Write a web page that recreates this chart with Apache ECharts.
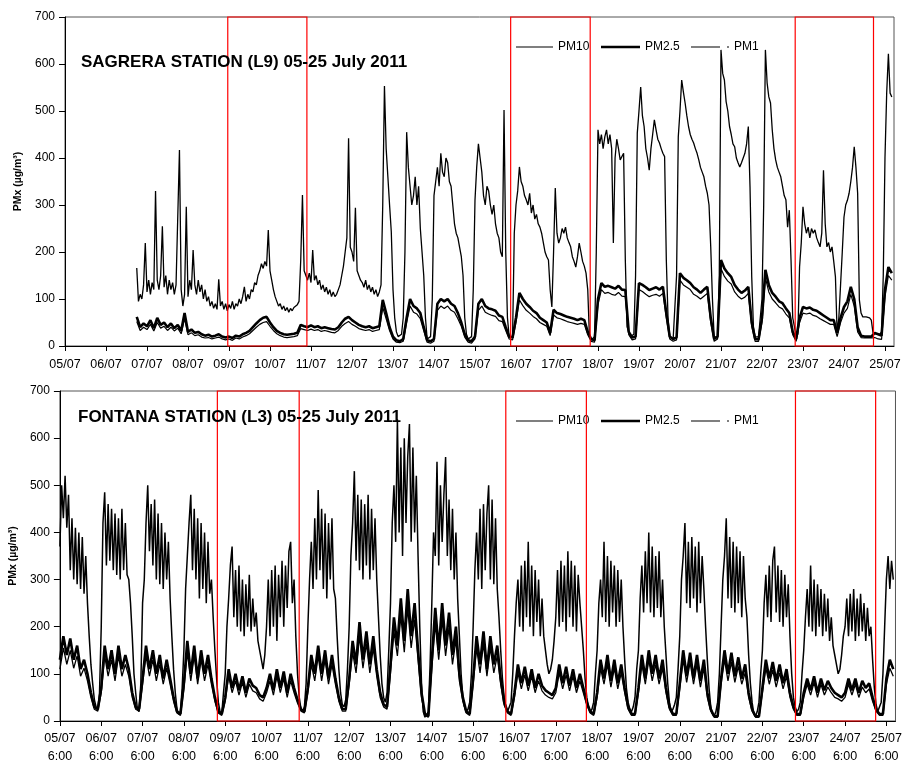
<!DOCTYPE html>
<html>
<head>
<meta charset="utf-8">
<script src="https://cdn.jsdelivr.net/npm/echarts@6/dist/echarts.min.js"></script>
<style>
html,body{margin:0;padding:0;background:#fff;}
#chart{width:905px;height:766px;}
</style>
</head>
<body>
<div id="chart"></div>
<script>
// Tick labels (each day at 6:00)
const dayLabels = ['05/07','06/07','07/07','08/07','09/07','10/07','11/07','12/07','13/07','14/07','15/07',
  '16/07','17/07','18/07','19/07','20/07','21/07','22/07','23/07','24/07','25/07'];

// x unit: days since 05/07 6:00
// SAGRERA (top): PM10 hourly from 07/07 00:00 (one row per day)
const sagreraStart = 1.75;
const sagreraPM10 = [
  [166,95,110,100,130,219,115,140,110,135,120,330,140,120,150,255,125,150,110,140,120,135,110,130],
  [130,417,120,85,110,296,105,140,120,204,130,110,140,115,130,100,120,95,105,85,95,80,90,78],
  [142,85,95,78,90,75,88,80,95,78,90,85,100,90,105,126,95,110,100,120,115,135,130,150],
  [160,175,165,180,170,247,160,140,120,105,95,85,90,78,85,75,82,72,80,75,82,78,88,95],
  [183,321,160,150,140,155,135,204,140,150,130,140,120,130,115,125,110,120,105,115,105,110,120,130],
  [150,170,200,230,442,210,200,180,294,160,150,140,135,125,140,120,130,115,125,110,120,105,115,130],
  [300,553,420,360,300,243,120,60,30,20,18,25,60,200,455,380,340,300,320,360,300,340,250,200],
  [150,60,15,12,20,100,320,350,380,340,410,370,360,400,390,350,340,300,260,240,230,210,190,150],
  [60,25,15,12,20,120,310,380,430,400,370,320,300,340,330,300,280,300,260,240,230,200,190,502],
  [200,60,20,19,18,240,300,330,381,350,340,320,311,300,325,283,300,270,280,260,253,240,220,200],
  [190,183,120,83,200,336,240,219,230,250,240,253,230,220,211,190,180,168,190,219,200,180,170,155],
  [120,20,13,13,20,200,460,430,450,420,445,460,430,450,420,219,400,440,420,396,400,410,183,41],
  [30,20,19,25,150,453,500,551,490,467,420,400,374,420,450,481,460,440,432,420,410,403,183,60],
  [20,19,15,18,150,445,500,566,540,517,490,467,450,440,432,420,410,396,380,370,360,340,325,300],
  [211,100,19,18,20,150,630,580,566,520,500,467,450,430,424,400,390,381,390,400,410,430,467,338],
  [147,40,19,18,20,19,100,300,630,560,530,517,460,420,396,380,370,360,340,320,311,253,289,183],
  [60,41,19,25,168,220,296,260,240,253,230,250,240,247,230,220,211,240,374,260,211,220,200,211],
  [180,147,28,60,130,200,274,300,310,325,350,380,424,380,325,98,70,62,60,62,58,60,55,28],
  [28,25,22,25,30,150,400,538,622,538,530]
].flat();
// SAGRERA PM2.5 and PM1 every 2 h from 07/07 00:00
const sagreraPM25 = [
  [62,40,48,42,55,38,60,45,50,40,48,38],
  [45,32,70,30,35,28,30,25,22,24,20,22],
  [25,20,18,20,17,22,20,25,28,32,40,48],
  [55,60,62,50,40,32,28,25,24,25,26,28],
  [45,42,40,44,40,42,38,40,38,36,35,40],
  [50,58,62,55,50,45,42,40,42,38,40,42],
  [98,70,40,20,12,10,15,60,100,85,80,70],
  [40,12,10,15,90,100,95,100,90,85,70,50],
  [25,12,10,20,90,100,85,80,78,75,65,62],
  [40,20,18,60,113,100,90,83,75,70,60,55],
  [50,28,77,70,68,65,62,60,58,55,58,55],
  [30,15,12,100,134,126,128,125,122,128,120,119],
  [30,18,20,134,130,125,119,122,125,120,126,70],
  [20,15,18,155,145,140,134,125,120,113,120,126],
  [60,15,20,183,165,155,147,130,120,113,118,126],
  [50,15,14,60,162,130,113,105,95,91,80,70],
  [30,15,60,83,80,82,77,75,70,65,60,55],
  [55,28,60,83,95,126,100,40,22,20,20,20],
  [28,25,22,120,168,155]
].flat();
const sagreraPM1 = [
  [52,33,40,35,46,32,50,38,42,33,40,32],
  [38,26,58,24,28,22,24,19,17,18,15,17],
  [19,15,13,15,12,17,15,19,22,26,33,40],
  [46,50,52,42,33,26,22,19,18,19,20,22],
  [37,35,33,36,33,35,31,33,31,29,28,33],
  [42,48,52,46,42,37,35,33,35,31,33,35],
  [82,58,33,15,8,7,10,50,85,72,68,58],
  [33,8,6,10,76,85,80,85,76,72,58,42],
  [19,8,6,15,76,85,72,68,65,63,54,52],
  [33,15,13,50,98,86,76,70,63,58,50,46],
  [42,22,66,60,58,55,52,50,48,46,48,46],
  [24,10,8,88,120,112,114,110,108,114,106,105],
  [24,13,15,120,116,110,105,108,110,106,112,60],
  [15,10,13,140,130,125,120,110,106,100,106,112],
  [50,10,15,165,148,138,132,115,106,100,104,112],
  [42,10,10,50,145,115,100,92,83,79,68,60],
  [24,10,50,70,68,70,65,63,58,54,50,46],
  [46,20,50,70,80,110,85,30,18,17,17,17],
  [18,15,14,105,150,140]
].flat();

// FONTANA (bottom): PM10 hourly from 05/07 6:00 (one row per day, 6:00 to 5:00)
const fontanaStart = 0;
const fontanaPM10 = [
  [370,500,430,520,410,480,320,430,300,410,290,400,280,390,270,350,250,180,120,80,45,30,25,60],
  [200,420,485,330,460,340,450,320,440,310,430,300,450,320,420,310,300,250,180,100,60,25,20,80],
  [250,300,420,500,360,460,330,470,300,440,290,420,280,400,300,380,260,180,110,60,25,15,20,70],
  [150,280,350,420,480,320,450,300,430,260,420,280,400,250,380,270,300,220,150,90,40,20,15,60],
  [100,200,260,330,370,220,320,200,330,190,300,180,290,200,310,190,260,200,230,170,150,130,110,140],
  [200,300,180,320,200,330,170,310,220,340,200,330,240,360,380,250,300,180,100,50,25,20,30,80],
  [200,300,380,280,430,300,490,320,450,280,440,260,420,300,430,280,260,180,110,60,35,30,45,110],
  [200,350,420,530,340,480,320,470,300,460,330,480,300,450,320,430,300,220,140,80,50,40,60,150],
  [250,420,500,380,640,400,580,350,600,420,560,630,380,580,400,520,350,200,80,20,8,5,20,120],
  [250,400,350,550,330,500,380,480,560,350,470,320,450,300,400,260,180,100,50,30,20,25,40,100],
  [200,320,400,300,450,280,460,320,440,500,300,470,290,430,280,220,150,90,50,30,20,20,40,100],
  [180,250,300,200,330,190,340,220,380,200,330,180,320,210,300,180,260,180,150,120,100,110,130,170],
  [220,320,200,340,210,330,190,360,220,340,200,330,190,310,250,200,150,90,50,30,20,25,40,100],
  [150,250,300,220,380,210,350,200,340,230,330,200,320,210,300,200,130,70,40,25,20,30,50,110],
  [150,260,330,230,360,250,400,230,370,220,350,240,360,220,300,200,140,80,40,20,25,35,50,110],
  [180,300,350,420,250,380,240,390,260,370,230,380,250,350,280,200,130,70,30,15,10,20,40,100],
  [200,300,350,430,260,390,240,380,230,370,250,360,220,350,260,220,140,80,40,15,10,20,40,100],
  [150,250,310,220,330,210,340,370,230,330,210,320,200,310,220,290,180,100,50,30,20,25,40,100],
  [150,220,280,200,330,190,300,180,290,200,280,180,270,190,260,170,220,160,140,120,100,110,140,180],
  [200,260,180,270,190,280,170,260,180,270,190,250,170,240,180,200,130,70,35,20,20,40,100,200],
  [300,350,280,340,300]
].flat();
// FONTANA PM2.5 and PM1 every 2 h from 05/07 6:00
const fontanaPM25 = [
  [130,180,140,175,130,160,110,130,100,60,30,25],
  [70,160,110,150,100,160,110,140,110,60,30,25],
  [90,160,110,150,100,140,90,130,90,50,20,15],
  [80,170,100,160,90,150,100,140,90,50,20,15],
  [50,110,70,100,65,95,60,90,75,70,55,50],
  [70,100,65,110,70,105,60,100,70,45,25,20],
  [70,140,100,160,100,150,90,140,90,50,25,25],
  [90,170,120,210,130,190,120,180,110,60,35,30],
  [120,220,160,260,170,280,180,250,150,60,15,10],
  [130,240,150,250,160,230,140,200,100,50,20,15],
  [90,180,120,190,110,180,120,160,90,40,20,15],
  [60,120,80,115,75,110,70,100,75,65,60,55],
  [70,120,80,115,75,110,70,100,70,40,20,15],
  [60,130,90,140,85,130,80,120,70,30,15,15],
  [70,140,90,150,100,140,90,130,70,30,15,15],
  [80,150,95,145,90,140,85,130,60,25,10,10],
  [90,150,100,145,95,135,90,120,60,25,10,10],
  [70,130,90,125,85,120,80,110,60,30,15,15],
  [60,90,65,95,60,90,65,85,70,60,55,50],
  [60,90,65,90,60,85,70,80,50,25,15,15],
  [90,130,110]
].flat();
const fontanaPM1 = [
  [110,155,120,150,112,138,95,112,85,50,25,21],
  [60,138,95,130,85,138,95,120,95,50,25,21],
  [78,138,95,130,85,120,78,112,78,42,17,12],
  [68,146,85,138,78,130,85,120,78,42,17,12],
  [42,95,60,85,55,82,50,78,64,60,47,42],
  [60,85,55,95,60,90,50,85,60,38,21,17],
  [60,120,85,138,85,130,78,120,78,42,21,21],
  [78,146,102,180,112,164,102,155,95,50,30,25],
  [102,190,138,224,146,240,155,215,130,50,12,8],
  [112,206,130,215,138,198,120,172,85,42,17,12],
  [78,155,102,164,95,155,102,138,78,34,17,12],
  [50,102,68,98,64,95,60,85,64,55,50,47],
  [60,102,68,98,64,95,60,85,60,34,17,12],
  [50,112,78,120,72,112,68,102,60,25,12,12],
  [60,120,78,130,85,120,78,112,60,25,12,12],
  [68,130,82,125,78,120,72,112,50,21,8,8],
  [78,130,85,125,82,116,78,102,50,21,8,8],
  [60,112,78,108,72,102,68,95,50,25,12,12],
  [50,78,55,82,50,78,55,72,60,50,47,42],
  [50,78,55,78,50,72,60,68,42,21,12,12],
  [78,112,95]
].flat();

// Weekend boxes (days since 05/07 6:00)
const sagreraBoxes = [[3.97,5.9],[10.87,12.81],[17.81,19.72]];
const fontanaBoxes = [[3.81,5.79],[10.79,12.74],[17.80,19.74]];

const FONT = '"Liberation Sans", Arial, sans-serif';
const X_MAX = 20.22;

function pairs(arr, start, step){ return arr.map((v,i)=>[start + i*step, v]); }
function boxes(list){ return list.map(b=>[{xAxis:b[0], yAxis:0},{xAxis:b[1], yAxis:700}]); }

function lineSeries(name, data, width, gi, boxList){
  const s = {
    name: name, type:'line', xAxisIndex: gi, yAxisIndex: gi,
    data: data, showSymbol:false, symbol:'none', animation:false,
    lineStyle:{color:'#000', width: width}, itemStyle:{color:'#000'},
    emphasis:{disabled:true}, z: 3
  };
  if (boxList){
    s.markArea = { silent:true, z: 4,
      itemStyle:{color:'rgba(0,0,0,0)', borderColor:'#ff0000', borderWidth:1.2},
      data: boxes(boxList) };
  }
  return s;
}

function xAxis(gi, twoLine){
  return {
    type:'value', gridIndex: gi, min:0, max:X_MAX, interval:1,
    axisLine:{show:true, onZero:false, lineStyle:{color:'#000', width:1}},
    axisTick:{show:true, length:5, lineStyle:{color:'#000'}},
    splitLine:{show:false},
    axisLabel:{
      color:'#000', fontFamily:FONT, fontSize:12.5, margin: twoLine ? 9 : 10, lineHeight: 18,
      showMaxLabel:false,
      formatter: v => {
        const k = Math.round(v);
        if (Math.abs(v-k) > 1e-6 || !dayLabels[k]) return '';
        return twoLine ? dayLabels[k] + '\n6:00' : dayLabels[k];
      }
    }
  };
}
function yAxis(gi, gap){
  return {
    type:'value', gridIndex: gi, min:0, max:700, interval:100,
    name:'PMx (µg/m³)', nameLocation:'middle', nameGap: gap, nameRotate: 90,
    nameTextStyle:{color:'#000', fontFamily:FONT, fontSize:10.5, fontWeight:'bold'},
    axisLine:{show:true, lineStyle:{color:'#000', width:1}},
    axisTick:{show:true, length:6, lineStyle:{color:'#000'}},
    splitLine:{show:false},
    axisLabel:{color:'#000', fontFamily:FONT, fontSize:12, margin:10}
  };
}

function legends(top){
  const base = {orient:'horizontal', top: top, itemGap:0, selectedMode:false,
    textStyle:{color:'#000', fontFamily:FONT, fontSize:12}, itemStyle:{color:'#000', borderWidth:0}};
  return [
    Object.assign({}, base, {left:511, itemWidth:37, itemHeight:1, data:[{name:'PM10', icon:'rect'}]}),
    Object.assign({}, base, {left:596, itemWidth:39, itemHeight:2.5, data:[{name:'PM2.5', icon:'rect'}]}),
    Object.assign({}, base, {left:686, itemWidth:38, itemHeight:1,
      data:[{name:'PM1', icon:'path://M0,0H29V1H0Z M36,0H38V1H36Z'}]})
  ];
}

const option = {
  animation:false,
  backgroundColor:'#fff',
  title:[
    {text:'SAGRERA STATION (L9) 05-25 July 2011', left:81, top:52, padding:0,
      textStyle:{color:'#000', fontFamily:FONT, fontSize:17, fontWeight:'bold', lineHeight:20}},
    {text:'FONTANA STATION (L3) 05-25 July 2011', left:78, top:407, padding:0,
      textStyle:{color:'#000', fontFamily:FONT, fontSize:17, fontWeight:'bold', lineHeight:20}}
  ],
  legend: legends(36).concat(legends(410)),
  grid:[
    {left:65, top:17, width:829, height:329, show:true, borderColor:'#555', borderWidth:1, backgroundColor:'rgba(0,0,0,0)'},
    {left:58, top:391, width:842, height:333, show:true, borderColor:'#555', borderWidth:1, backgroundColor:'rgba(0,0,0,0)'}
  ],
  xAxis:[xAxis(0,false), xAxis(1,true)],
  yAxis:[yAxis(0,40), yAxis(1,38)],
  series:[
    lineSeries('PM10', pairs(sagreraPM10, sagreraStart, 1/24), 1.3, 0, sagreraBoxes),
    lineSeries('PM2.5', pairs(sagreraPM25, sagreraStart, 1/12), 2.6, 0),
    lineSeries('PM1', pairs(sagreraPM1, sagreraStart, 1/12), 1.2, 0),
    lineSeries('PM10', pairs(fontanaPM10, fontanaStart, 1/24), 1.5, 1, fontanaBoxes),
    lineSeries('PM2.5', pairs(fontanaPM25, fontanaStart, 1/12), 2.6, 1),
    lineSeries('PM1', pairs(fontanaPM1, fontanaStart, 1/12), 1.3, 1)
  ]
};

const chart = echarts.init(document.getElementById('chart'), null, {renderer:'canvas'});
chart.setOption(option);
</script>
</body>
</html>
